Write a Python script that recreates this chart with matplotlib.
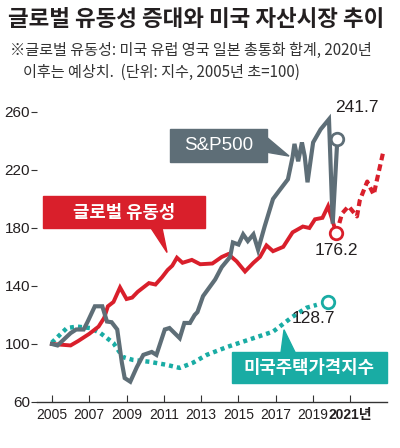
import matplotlib
matplotlib.use("Agg")
import matplotlib.pyplot as plt
from matplotlib.patches import Rectangle, Polygon

plt.rcParams['font.family'] = ['Noto Sans CJK KR', 'DejaVu Sans']
NUM = ['Liberation Sans', 'Noto Sans CJK KR']

# global liquidity (index, 2005 = 100)
liq_x = [2005.0, 2005.5, 2006.0, 2006.4, 2007.0, 2007.5, 2007.8, 2008.0, 2008.3, 2008.65,
         2009.0, 2009.3, 2009.6, 2010.0, 2010.2, 2010.55, 2010.9, 2011.2, 2011.45, 2011.7,
         2012.0, 2012.5, 2012.95, 2013.6, 2014.1, 2014.45, 2014.9, 2015.35, 2015.8, 2016.15,
         2016.5, 2016.85, 2017.4, 2017.9, 2018.45, 2018.8, 2019.1, 2019.5, 2019.8, 2020.25]
liq_y = [100, 99.5, 99, 102, 107, 112, 118, 126, 129, 139,
         131, 132, 136, 140, 142, 141, 146, 151, 154, 159.5,
         156, 158, 155, 155.5, 160, 162, 157, 150, 156, 160,
         168, 164, 167, 177, 181, 180, 186, 187, 195, 176.2]
# forecast part
fc_x = [2020.25, 2020.55, 2020.9, 2021.35, 2021.5, 2021.9, 2022.25, 2022.4, 2022.75]
fc_y = [176.2, 190, 195, 188, 199, 212, 203, 212, 232]

# S&P500
sp_x = [2005.0, 2005.3, 2006.0, 2006.3, 2006.7, 2006.9, 2007.3, 2007.7, 2007.95, 2008.2,
        2008.5, 2008.75, 2008.9, 2009.2, 2009.55, 2009.9, 2010.35, 2010.6, 2011.05, 2011.3,
        2011.85, 2012.1, 2012.4, 2012.65, 2012.8, 2013.1, 2013.75, 2014.1, 2014.55, 2014.7,
        2015.0, 2015.25, 2015.5, 2015.8, 2016.05, 2016.4, 2016.85, 2017.2, 2017.65, 2017.9,
        2018.0, 2018.2, 2018.4, 2018.55, 2018.7, 2019.0, 2019.4, 2019.85, 2020.05, 2020.3]
sp_y = [100, 99, 107.5, 110, 110, 115, 126, 126, 115.5, 115,
        110, 87, 76.5, 74, 84, 92.5, 94.5, 92.5, 110, 111,
        104, 114.5, 114.5, 120, 122, 133, 144.5, 153, 160, 170,
        168.6, 175.6, 171, 175.6, 165, 181, 200, 206, 213.6, 229,
        238, 226, 239, 229.5, 211.5, 239, 248, 255, 183, 241.7]

# US house price index
hp_x = [2005.0, 2005.8, 2006.35, 2007.05, 2007.6, 2008.3, 2008.8, 2009.35, 2010.25, 2011.15,
        2011.85, 2012.55, 2013.3, 2014.4, 2015.8, 2016.85, 2017.9, 2018.65, 2019.2, 2019.8]
hp_y = [101, 111, 112, 111, 107.5, 100.6, 91, 89, 87.7, 85.6,
        83.5, 87, 92.5, 98, 104, 108.5, 118.8, 125, 127, 128.7]

years = [2005, 2007, 2009, 2011, 2013, 2015, 2017, 2019, 2021]
year_labels = ['2005', '2007', '2009', '2011', '2013', '2015', '2017', '2019', '2021년']
yticks = [60, 100, 140, 180, 220, 260]

RED = '#d91f2b'
GRAY = '#5e6e77'
TEAL = '#19aca4'
DARK = '#231f20'

fig = plt.figure(figsize=(4, 4.48), dpi=100)
ax = fig.add_axes([0.0925, 0.1027, 0.875, 0.6538])
ax.set_xlim(2004.2, 2022.96)
ax.set_ylim(60, 262)

ax.plot(hp_x[:-1], hp_y[:-1], color=TEAL, lw=3.2, ls=(0, (0.9, 0.9)), dash_capstyle='butt', zorder=3)
ax.plot(liq_x, liq_y, color=RED, lw=2.8, solid_joinstyle='miter', zorder=4)
ax.plot(fc_x, fc_y, color=RED, lw=3, ls=(0, (1.6, 1.0)), dash_capstyle='butt', zorder=4)
ax.plot(sp_x, sp_y, color=GRAY, lw=3, solid_joinstyle='miter', zorder=5)

# end point circles
ax.plot(liq_x[-1], liq_y[-1], 'o', ms=9, mfc='white', mec=RED, mew=2, zorder=6)
ax.plot(sp_x[-1], sp_y[-1], 'o', ms=9, mfc='white', mec=GRAY, mew=2, zorder=6)
ax.plot(hp_x[-1], hp_y[-1], 'o', ms=9, mfc='white', mec=TEAL, mew=2, zorder=6)

ax.annotate(f'{sp_y[-1]:.1f}', (2021.35, 262.8), family=NUM, fontsize=12.5, color=DARK,
            ha='center', va='center', annotation_clip=False)
ax.annotate(f'{liq_y[-1]:.1f}', (2020.25, 164.2), family=NUM, fontsize=12.5, color=DARK,
            ha='center', va='center')
ax.annotate(f'{hp_y[-1]:.1f}', (2019.0, 117.5), family=NUM, fontsize=12.5, color=DARK,
            ha='center', va='center')

# label boxes
ax.add_patch(Rectangle((2011.33, 225.4), 5.2, 22.8, color=GRAY, zorder=7, clip_on=False))
ax.add_patch(Polygon([(2016.5, 242.7), (2016.5, 232.3), (2017.71, 229.6)], color=GRAY, zorder=7))
ax.text(2013.93, 236.8, 'S&P500', family=NUM, fontsize=13.5, color='white',
        ha='center', va='center', zorder=8)

ax.add_patch(Rectangle((2004.52, 179.7), 8.68, 22.2, color=RED, zorder=7, clip_on=False))
ax.add_patch(Polygon([(2010.31, 180), (2010.9, 180), (2011.17, 163.1)], color=RED, zorder=7))
ax.text(2008.86, 190.6, '글로벌 유동성', fontsize=12.8, fontweight='bold', color='white',
        ha='center', va='center', zorder=8)

ax.add_patch(Rectangle((2014.65, 73.2), 8.31, 21.4, color=TEAL, zorder=7, clip_on=False))
ax.add_patch(Polygon([(2017.28, 94.3), (2018.03, 94.3), (2017.44, 109.8)], color=TEAL, zorder=7))
ax.text(2018.8, 83.7, '미국주택가격지수', fontsize=12.8, fontweight='bold', color='white',
        ha='center', va='center', zorder=8)

for s in ['top', 'right', 'left']:
    ax.spines[s].set_visible(False)
ax.spines['bottom'].set_color('#333333')
ax.spines['bottom'].set_linewidth(1)

ax.set_xticks(years)
ax.set_xticklabels(year_labels)
ax.set_yticks(yticks)
ax.set_yticklabels([str(v) for v in yticks])
ax.tick_params(axis='x', direction='in', length=5, width=0.8, color='#333333', pad=4,
               labelsize=10, labelcolor=DARK)
ax.tick_params(axis='y', direction='out', length=4, width=0.8, color='#333333', pad=1,
               labelsize=11, labelcolor=DARK)
for lab in ax.get_xticklabels() + ax.get_yticklabels():
    lab.set_family(NUM)
ax.get_xticklabels()[-1].set_fontweight('bold')

fig.text(0.02, 0.957, '글로벌 유동성 증대와 미국 자산시장 추이', fontsize=16.2,
         fontweight='bold', color=DARK, ha='left', va='center')
fig.text(0.025, 0.888, '※글로벌 유동성: 미국 유럽 영국 일본 총통화 합계, 2020년', fontsize=10.9,
         color='#333333', ha='left', va='center')
fig.text(0.057, 0.839, '이후는 예상치.  (단위: 지수, 2005년 초=100)', fontsize=10.9,
         color='#333333', ha='left', va='center')

fig.savefig('out.png', dpi=100)
